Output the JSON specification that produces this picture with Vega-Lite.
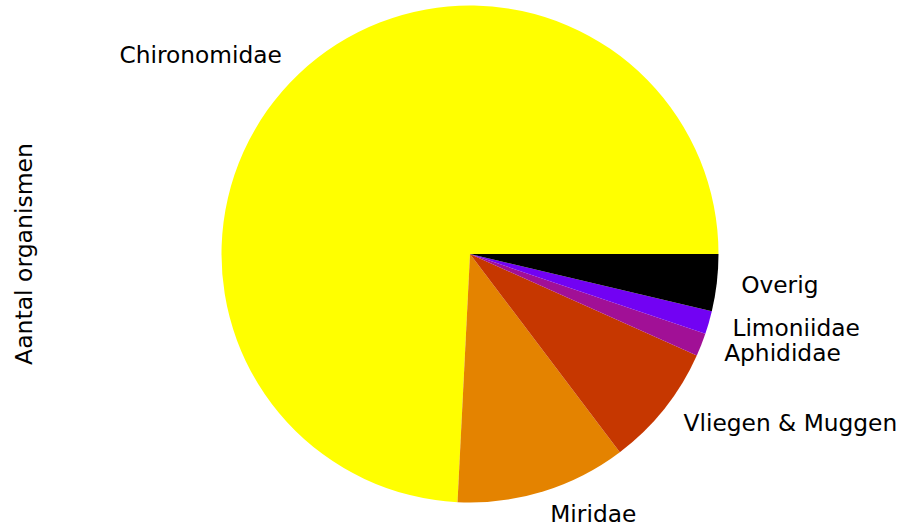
{
  "$schema": "https://vega.github.io/schema/vega-lite/v6.json",
  "width": 858,
  "height": 508,
  "autosize": {"type": "none"},
  "padding": {"left": 41, "top": 0, "right": 0, "bottom": 24},
  "background": "white",
  "view": {"stroke": null},
  "title": {
    "text": "Aantal organismen",
    "orient": "left",
    "anchor": "middle",
    "frame": "group",
    "font": "DejaVu Sans",
    "fontSize": 23.5,
    "fontWeight": "normal",
    "color": "black",
    "offset": 5
  },
  "data": {
    "values": [
      {"label": "Chironomidae", "count": 742},
      {"label": "Miridae", "count": 111},
      {"label": "Vliegen & Muggen", "count": 80},
      {"label": "Aphididae", "count": 15},
      {"label": "Limoniidae", "count": 15},
      {"label": "Overig", "count": 37}
    ]
  },
  "transform": [{"window": [{"op": "row_number", "as": "idx"}]}],
  "encoding": {
    "theta": {
      "field": "count",
      "type": "quantitative",
      "stack": true,
      "scale": {"range": [1.5707963, -4.712389]}
    },
    "order": {"field": "idx", "type": "quantitative"}
  },
  "layer": [
    {
      "mark": {"type": "arc", "outerRadius": 248.5},
      "encoding": {
        "color": {
          "field": "label",
          "type": "nominal",
          "scale": {
            "domain": ["Chironomidae", "Miridae", "Vliegen & Muggen", "Aphididae", "Limoniidae", "Overig"],
            "range": ["#ffff00", "#e48300", "#c63700", "#a11096", "#7202f3", "#000000"]
          },
          "legend": null
        }
      }
    },
    {
      "mark": {"type": "text", "radius": 273, "align": "right", "baseline": "middle", "font": "DejaVu Sans", "fontSize": 23.3, "color": "black"},
      "encoding": {
        "text": {"condition": {"test": "datum.label === 'Chironomidae'", "field": "label"}, "value": ""}
      }
    },
    {
      "mark": {"type": "text", "radius": 273, "align": "left", "baseline": "middle", "font": "DejaVu Sans", "fontSize": 23.3, "color": "black"},
      "encoding": {
        "text": {"condition": {"test": "datum.label !== 'Chironomidae'", "field": "label"}, "value": ""}
      }
    }
  ]
}
